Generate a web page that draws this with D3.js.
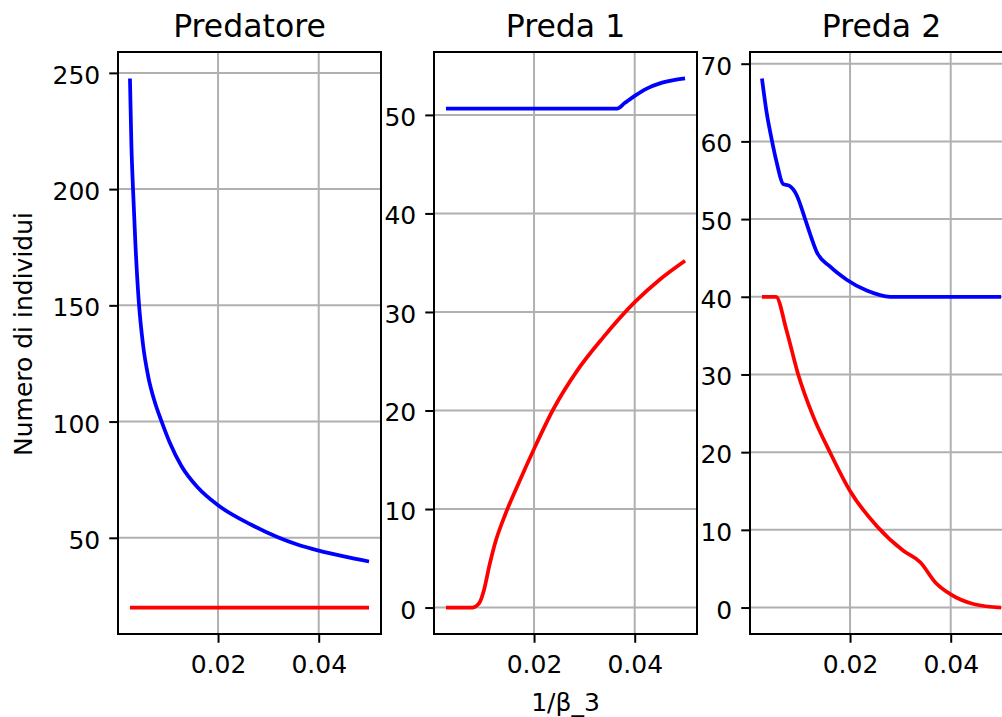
<!DOCTYPE html>
<html>
  <head>
    <meta charset="utf-8">
    <title>Predatore e prede</title>
    <script src="https://d3js.org/d3.v7.min.js"></script>
    <style>
      body { margin: 0; background: #fff; }
      svg { display: block; font-family: "DejaVu Sans", sans-serif; }
      .grid line { stroke: #b0b0b0; stroke-width: 2; }
      .tick text { font-size: 25px; fill: #000; }
      .tick line { stroke: #000; stroke-width: 2; }
      .frame { fill: none; stroke: #000; stroke-width: 2; }
      .series { fill: none; stroke-width: 3.75; stroke-linejoin: round; }
    </style>
  </head>
  <body>
    <svg id="chart" width="1002" height="717"></svg>
    <script>
      // values, as [1/beta_3, individui]
      predBlue = [[0.0025, 247.6], [0.00278, 219.6], [0.00311, 200], [0.00358, 176.6], [0.00424, 152],
        [0.0051, 133], [0.00609, 119.8], [0.00742, 108.5], [0.00874, 100.3], [0.0104, 91.0],
        [0.01272, 80.9], [0.01603, 71.5], [0.02, 64.0], [0.02662, 55.6], [0.03589, 47.0],
        [0.04, 44.5], [0.045, 42.0], [0.05, 39.8]];
      predRed = [[0.0025, 20], [0.05, 20]];
      preda1Blue = [[0.0025, 50.65], [0.0365, 50.65], [0.038, 51.2], [0.04, 51.93], [0.0425, 52.7],
        [0.045, 53.2], [0.0475, 53.5], [0.05, 53.7]];
      preda1Red = [[0.0025, 0], [0.0078, 0], [0.0091, 0.44], [0.0101, 1.86], [0.0111, 4.2],
        [0.0122, 6.43], [0.0143, 9.47], [0.017, 12.7], [0.02, 16.1], [0.0238, 20.1],
        [0.0285, 24.0], [0.0337, 27.4], [0.04, 31.0], [0.045, 33.3], [0.05, 35.2]];
      preda2Blue = [[0.0025, 68.1], [0.00341, 63.8], [0.00439, 60.4], [0.00539, 57.4], [0.00671, 54.5],
        [0.0079, 54.3], [0.00938, 53.1], [0.01103, 50.1], [0.01237, 47.5], [0.01336, 45.8],
        [0.01601, 43.9], [0.01934, 42.2], [0.02332, 40.8], [0.028, 40], [0.05, 40]];
      preda2Red = [[0.0025, 40], [0.0053, 40], [0.00737, 35.7], [0.0097, 30], [0.01262, 24.7],
        [0.016, 20], [0.02, 15.0], [0.0253, 10.5], [0.0306, 7.3], [0.034, 5.8],
        [0.037, 3.2], [0.04, 1.7], [0.0447, 0.43], [0.05, 0]];

      titles = ["Predatore", "Preda 1", "Preda 2"];
      seriesByPanel = [[predBlue, predRed], [preda1Blue, preda1Red], [preda2Blue, preda2Red]];
      colours = ["blue", "red"];
      xTicks = [0.02, 0.04];
      yTicks = [[50, 100, 150, 200, 250], [0, 10, 20, 30, 40, 50], [0, 10, 20, 30, 40, 50, 60, 70]];

      svg = d3.select("#chart");
      top_ = 52;
      bottom = 634;
      panelWidth = 263;
      lefts = [118, 434, 750];

      // matplotlib-style 5% margins
      function padded(ext) {
        var m = (ext[1] - ext[0]) * 0.05;
        return [ext[0] - m, ext[1] + m];
      }
      allX = d3.merge(d3.merge(seriesByPanel)).map(function(d) { return d[0]; });
      xDomain = padded(d3.extent(allX));

      seriesByPanel.forEach(function(series, i) {
        var left = lefts[i];
        var x = d3.scaleLinear().domain(xDomain).range([left, left + panelWidth]);
        var ys = d3.merge(series).map(function(d) { return d[1]; });
        var y = d3.scaleLinear().domain(padded(d3.extent(ys))).range([bottom, top_]);
        var g = svg.append("g");

        // grid
        g.append("g").classed("grid", true)
          .selectAll("line.v").data(xTicks).enter().append("line")
            .attr("x1", x).attr("x2", x).attr("y1", top_).attr("y2", bottom);
        g.select(".grid")
          .selectAll("line.h").data(yTicks[i]).enter().append("line")
            .attr("x1", left).attr("x2", left + panelWidth)
            .attr("y1", y).attr("y2", y);

        // lines
        var line = d3.line()
          .x(function(d) { return x(d[0]); })
          .y(function(d) { return y(d[1]); })
          .curve(d3.curveMonotoneX);
        series.forEach(function(s, k) {
          g.append("path").classed("series", true)
            .attr("d", line(s))
            .style("stroke", colours[k]);
        });

        // axes
        var xAxis = d3.axisBottom(x).tickValues(xTicks).tickFormat(d3.format(".2f"))
          .tickSizeOuter(0).tickSizeInner(8.75).tickPadding(12);
        g.append("g").attr("transform", "translate(0," + bottom + ")").call(xAxis)
          .call(function(a) { a.select(".domain").remove(); });
        var yAxis = d3.axisLeft(y).tickValues(yTicks[i]).tickFormat(d3.format("d"))
          .tickSizeOuter(0).tickSizeInner(8.75).tickPadding(9);
        g.append("g").attr("transform", "translate(" + left + ",0)").call(yAxis)
          .call(function(a) {
            a.select(".domain").remove();
            a.selectAll(".tick text").attr("dy", "0.42em");
          });
        g.selectAll(".tick text").style("font-family", "DejaVu Sans");

        g.append("rect").classed("frame", true)
          .attr("x", left).attr("y", top_)
          .attr("width", panelWidth).attr("height", bottom - top_);

        g.append("text")
          .attr("x", left + panelWidth / 2).attr("y", top_ - 15)
          .attr("text-anchor", "middle")
          .style("font-size", "31.5px")
          .text(titles[i]);
      });

      svg.append("text")
        .attr("transform", "translate(32,334) rotate(-90)")
        .attr("text-anchor", "middle")
        .style("font-size", "25px")
        .text("Numero di individui");

      svg.append("text")
        .attr("x", lefts[1] + panelWidth / 2).attr("y", 711)
        .attr("text-anchor", "middle")
        .style("font-size", "25px")
        .text("1/β_3");
    </script>
  </body>
</html>
